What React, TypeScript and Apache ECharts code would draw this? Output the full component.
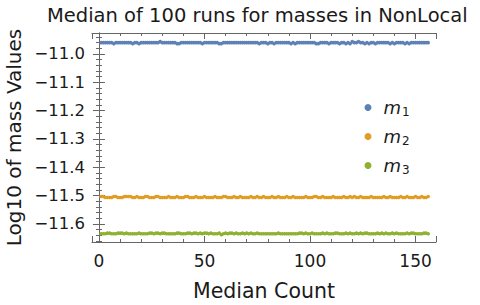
import React, { useEffect, useRef } from 'react';
import * as echarts from 'echarts';

const titleText = 'Median of 100 runs for masses in NonLocal';
const xName = 'Median Count';
const yName = 'Log10 of mass Values';
const seriesNames = ['m1', 'm2', 'm3'];
const seriesColors = ['#5E81B5', '#E19C24', '#8FB131'];
const xTickLabels = [0, 50, 100, 150];
const yTickLabels = [-11.6, -11.5, -11.4, -11.3, -11.2, -11.1, -11.0];

const m1 = [
  -10.96, -10.96, -10.96, -10.96, -10.96, -10.96, -10.9635, -10.96, -10.96, -10.96, -10.96, -10.96,
  -10.96, -10.96, -10.96, -10.9635, -10.96, -10.96, -10.9635, -10.96, -10.96, -10.96, -10.96, -10.96,
  -10.96, -10.96, -10.96, -10.96, -10.9565, -10.96, -10.96, -10.96, -10.96, -10.96, -10.96, -10.96,
  -10.9635, -10.9635, -10.96, -10.96, -10.96, -10.96, -10.96, -10.96, -10.96, -10.96, -10.96, -10.96,
  -10.9635, -10.96, -10.96, -10.96, -10.96, -10.96, -10.96, -10.96, -10.9635, -10.9635, -10.96, -10.96,
  -10.96, -10.96, -10.96, -10.96, -10.96, -10.96, -10.96, -10.96, -10.96, -10.96, -10.96, -10.96,
  -10.96, -10.96, -10.96, -10.9635, -10.96, -10.96, -10.96, -10.9635, -10.96, -10.96, -10.9635, -10.96,
  -10.96, -10.96, -10.96, -10.96, -10.96, -10.96, -10.9635, -10.96, -10.9635, -10.96, -10.96, -10.96,
  -10.96, -10.96, -10.96, -10.96, -10.96, -10.96, -10.9635, -10.9635, -10.96, -10.96, -10.96, -10.96,
  -10.9635, -10.96, -10.96, -10.96, -10.96, -10.9635, -10.96, -10.96, -10.9635, -10.96, -10.9635, -10.9565,
  -10.96, -10.96, -10.9565, -10.96, -10.96, -10.9635, -10.96, -10.9635, -10.96, -10.96, -10.9635, -10.96,
  -10.96, -10.96, -10.96, -10.96, -10.96, -10.9635, -10.96, -10.9635, -10.96, -10.96, -10.96, -10.96,
  -10.9635, -10.96, -10.9635, -10.96, -10.96, -10.96, -10.96, -10.96, -10.96, -10.96, -10.96, -10.96,
];

const m2 = [
  -11.5035, -11.5035, -11.507, -11.507, -11.507, -11.507, -11.5035, -11.5035, -11.507, -11.507, -11.507, -11.5035,
  -11.5035, -11.5035, -11.5035, -11.507, -11.507, -11.5035, -11.507, -11.507, -11.507, -11.5035, -11.5035, -11.507,
  -11.507, -11.507, -11.5035, -11.5035, -11.507, -11.507, -11.507, -11.507, -11.5035, -11.507, -11.507, -11.507,
  -11.5035, -11.507, -11.507, -11.507, -11.5035, -11.5035, -11.507, -11.507, -11.507, -11.5035, -11.507, -11.507,
  -11.507, -11.5035, -11.507, -11.507, -11.507, -11.507, -11.5035, -11.507, -11.507, -11.507, -11.5035, -11.5035,
  -11.507, -11.507, -11.507, -11.5035, -11.507, -11.507, -11.5035, -11.507, -11.507, -11.507, -11.507, -11.5035,
  -11.507, -11.507, -11.5035, -11.507, -11.507, -11.5035, -11.507, -11.507, -11.507, -11.5035, -11.507, -11.507,
  -11.5035, -11.507, -11.507, -11.507, -11.5035, -11.507, -11.507, -11.5035, -11.507, -11.507, -11.507, -11.507,
  -11.507, -11.5035, -11.507, -11.507, -11.507, -11.5035, -11.5035, -11.507, -11.507, -11.5035, -11.507, -11.507,
  -11.507, -11.507, -11.5035, -11.507, -11.507, -11.507, -11.507, -11.5035, -11.507, -11.507, -11.5035, -11.507,
  -11.5035, -11.507, -11.507, -11.5035, -11.507, -11.507, -11.507, -11.507, -11.5035, -11.507, -11.507, -11.507,
  -11.507, -11.507, -11.5035, -11.507, -11.507, -11.5035, -11.507, -11.507, -11.507, -11.507, -11.5035, -11.507,
  -11.507, -11.5035, -11.507, -11.507, -11.507, -11.5035, -11.507, -11.507, -11.5035, -11.507, -11.507, -11.5035,
];

const m3 = [
  -11.635, -11.635, -11.635, -11.6325, -11.6325, -11.635, -11.635, -11.635, -11.6325, -11.6325, -11.6325, -11.635,
  -11.6325, -11.635, -11.635, -11.635, -11.635, -11.635, -11.6325, -11.635, -11.635, -11.635, -11.635, -11.6325,
  -11.6325, -11.635, -11.6325, -11.6325, -11.635, -11.6325, -11.6325, -11.635, -11.635, -11.635, -11.635, -11.635,
  -11.6325, -11.6325, -11.635, -11.635, -11.635, -11.6325, -11.6325, -11.635, -11.6325, -11.6325, -11.635, -11.6325,
  -11.635, -11.6325, -11.6325, -11.635, -11.6325, -11.635, -11.635, -11.635, -11.6325, -11.638, -11.635, -11.6325,
  -11.635, -11.6325, -11.6325, -11.635, -11.6325, -11.635, -11.635, -11.6325, -11.635, -11.6325, -11.635, -11.6325,
  -11.635, -11.635, -11.6325, -11.635, -11.635, -11.635, -11.635, -11.635, -11.635, -11.635, -11.635, -11.635,
  -11.6325, -11.635, -11.635, -11.635, -11.635, -11.635, -11.635, -11.635, -11.635, -11.635, -11.6325, -11.6325,
  -11.635, -11.6325, -11.635, -11.635, -11.6325, -11.635, -11.635, -11.635, -11.635, -11.6325, -11.635, -11.6325,
  -11.635, -11.635, -11.635, -11.6325, -11.6325, -11.635, -11.635, -11.635, -11.6325, -11.635, -11.6325, -11.635,
  -11.635, -11.6325, -11.635, -11.6325, -11.635, -11.6325, -11.6325, -11.635, -11.635, -11.635, -11.635, -11.6325,
  -11.635, -11.6325, -11.635, -11.6325, -11.635, -11.635, -11.6325, -11.635, -11.6325, -11.635, -11.635, -11.635,
  -11.635, -11.6325, -11.635, -11.6325, -11.6325, -11.635, -11.635, -11.635, -11.635, -11.6325, -11.6325, -11.635,
];

const seriesValues = [m1, m2, m3];
const counts = m1.map((_, i) => i + 1);

const FONT = 'DejaVu Sans';
const FRAME = '#666666';
const TEXT = '#1a1a1a';

const X_MIN = -3.3;
const X_MAX = 159.7;
const Y_MIN = -11.664;
const Y_MAX = -10.926;

function fmtY(v: number): string {
  const r = Math.round(v * 10) / 10;
  if (Math.abs(r - v) > 1e-6 || !yTickLabels.some((t) => Math.abs(t - r) < 1e-6)) return '';
  return (r < 0 ? '\u2212' : '') + Math.abs(r).toFixed(1);
}

function fmtX(v: number): string {
  return xTickLabels.some((t) => Math.abs(t - v) < 1e-6) ? String(v) : '';
}

export default function App() {
  const ref = useRef<HTMLDivElement>(null);
  useEffect(() => {
    if (!ref.current) return;
    const chart = echarts.init(ref.current, null, { renderer: 'svg' });
    const tickCommon = {
      axisLine: { show: true, lineStyle: { color: FRAME, width: 1 } },
      axisTick: { show: true, inside: true, length: 6, lineStyle: { color: FRAME, width: 1 } },
      minorTick: { show: true, splitNumber: 5, length: 3, lineStyle: { color: FRAME, width: 1 } },
      splitLine: { show: false },
      minorSplitLine: { show: false },
    };
    chart.setOption({
      animation: false,
      backgroundColor: '#ffffff',
      title: {
        text: titleText,
        left: 47,
        top: 5,
        padding: 0,
        textStyle: { fontFamily: FONT, fontSize: 19.5, fontWeight: 'normal', color: TEXT },
      },
      grid: { left: 92, right: 44, top: 33, bottom: 63, containLabel: false, outerBoundsMode: 'none' },
      legend: {
        orient: 'vertical',
        left: 364.5,
        top: 97,
        padding: 0,
        icon: 'circle',
        itemWidth: 7,
        itemHeight: 7,
        itemGap: 8,
        data: seriesNames,
        formatter: (name: string) => `{i|m}{s|${name.slice(1)}}`,
        textStyle: {
          fontFamily: FONT,
          color: TEXT,
          rich: {
            i: { fontFamily: FONT, fontStyle: 'italic', fontSize: 18, color: TEXT, lineHeight: 20, padding: [0, 0, 0, 7] },
            s: { fontFamily: FONT, fontSize: 12, color: TEXT, padding: [9, 0, 0, 1], lineHeight: 20 },
          },
        },
      },
      xAxis: [
        {
          type: 'value',
          position: 'bottom',
          min: X_MIN,
          max: X_MAX,
          splitNumber: 3,
          ...tickCommon,
          axisLabel: { formatter: fmtX, fontFamily: FONT, fontSize: 17, color: TEXT, margin: 10, showMinLabel: false, showMaxLabel: false },
          name: xName,
          nameLocation: 'middle',
          nameGap: 38,
          nameTextStyle: { fontFamily: FONT, fontSize: 20.5, color: TEXT },
        },
        {
          type: 'value',
          position: 'top',
          min: X_MIN,
          max: X_MAX,
          splitNumber: 3,
          ...tickCommon,
          axisLabel: { show: false },
        },
      ],
      yAxis: [
        {
          type: 'value',
          position: 'left',
          min: Y_MIN,
          max: Y_MAX,
          scale: true,
          ...tickCommon,
          axisLabel: { formatter: fmtY, fontFamily: FONT, fontSize: 16.5, color: TEXT, margin: 7, showMinLabel: false, showMaxLabel: false },
          name: yName,
          nameLocation: 'middle',
          nameRotate: 90,
          nameGap: 65,
          nameTextStyle: { fontFamily: FONT, fontSize: 20, color: TEXT },
        },
        {
          type: 'value',
          position: 'right',
          min: Y_MIN,
          max: Y_MAX,
          scale: true,
          ...tickCommon,
          axisLabel: { show: false },
        },
      ],
      series: seriesNames.map((name, k) => ({
        name,
        type: 'scatter',
        xAxisIndex: 0,
        yAxisIndex: 0,
        symbol: 'circle',
        symbolSize: 3.6,
        itemStyle: { color: seriesColors[k], opacity: 1 },
        emphasis: { disabled: true },
        data: counts.map((c, i) => [c, seriesValues[k][i]]),
      })),
    });
    return () => chart.dispose();
  }, []);
  return <div ref={ref} style={{ position: 'fixed', left: 0, top: 0, width: 480, height: 305 }} />;
}
